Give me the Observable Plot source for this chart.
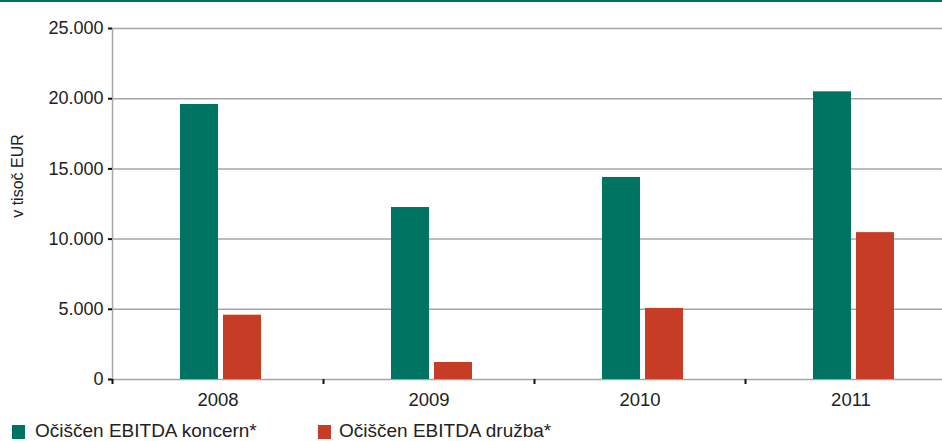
<!DOCTYPE html>
<html>
<head>
<meta charset="utf-8">
<script src="https://cdn.jsdelivr.net/npm/d3@7"></script>
<script src="https://cdn.jsdelivr.net/npm/@observablehq/plot@0.6"></script>
<style>
  html, body { margin: 0; padding: 0; background: #fff; }
  #wrap { position: relative; width: 942px; height: 441px; overflow: hidden; font-family: "Liberation Sans", Arial, sans-serif; color: #222; }
  #topline { height: 2px; background: #007462; }
  #chart svg { display: block; }
  .lg-sw { position: absolute; width: 13px; height: 14px; }
  .lg-tx { position: absolute; font-size: 19px; line-height: 20px; white-space: nowrap; }
</style>
</head>
<body>
<div id="wrap">
  <div id="topline"></div>
  <div id="chart"></div>
  <div id="legend"></div>
</div>
<script>
const years = ["2008", "2009", "2010", "2011"];
const koncern = [19590, 12250, 14390, 20490];
const druzba = [4580, 1210, 5060, 10460];
const yTicks = [0, 5000, 10000, 15000, 20000, 25000];
const seriesNames = ["Očiščen EBITDA koncern*", "Očiščen EBITDA družba*"];
const seriesColors = ["#007462", "#c63c24"];
const yLabel = "v tisoč EUR";

const rowsK = years.map((y, i) => ({year: y, value: koncern[i]}));
const rowsD = years.map((y, i) => ({year: y, value: druzba[i]}));

const fmt = d3.formatLocale({decimal: ",", thousands: ".", grouping: [3], currency: ["", " €"]}).format(",");

const chart = Plot.plot({
  width: 942,
  height: 416,
  marginLeft: 112,
  marginRight: 0,
  marginTop: 26,
  marginBottom: 39,
  style: {fontFamily: "'Liberation Sans', Arial, sans-serif", color: "#222", background: "#fff"},
  x: {type: "band", domain: years, range: [112, 956], padding: 0, axis: null},
  y: {domain: [0, 25000], axis: null},
  marks: [
    Plot.ruleY(yTicks, {stroke: "#a6a6a6", strokeWidth: 1.5}),
    Plot.frame({anchor: "left", stroke: "#a6a6a6", strokeWidth: 1.5}),
    Plot.barY(rowsK, {x: "year", y: "value", fill: seriesColors[0], insetLeft: 68, insetRight: 105}),
    Plot.barY(rowsD, {x: "year", y: "value", fill: seriesColors[1], insetLeft: 111, insetRight: 62}),
    Plot.axisY({ticks: yTicks, tickSize: 4, tickPadding: 5, tickFormat: fmt, stroke: "#111", strokeWidth: 2, fontSize: 18, label: null, style: {letterSpacing: "1.3px"}}),
    Plot.axisX({ticks: years, tickSize: 5, dx: -105.5, tickFormat: () => "", stroke: "#111", strokeWidth: 2, label: null}),
    Plot.axisX({ticks: years, tickSize: 0, tickPadding: 13, fontSize: 18.5, label: null}),
    Plot.text([yLabel], {frameAnchor: "left", rotate: -90, textAnchor: "middle", lineAnchor: "top", dx: -101, dy: -28, fontSize: 16, fill: "#222"})
  ]
});
document.getElementById("chart").appendChild(chart);

const legend = document.getElementById("legend");
const swX = [12, 318];
const txX = [35, 339];
seriesNames.forEach((name, i) => {
  const sw = document.createElement("div");
  sw.className = "lg-sw";
  sw.style.left = swX[i] + "px";
  sw.style.top = "425px";
  sw.style.background = seriesColors[i];
  legend.appendChild(sw);
  const tx = document.createElement("div");
  tx.className = "lg-tx";
  tx.style.left = txX[i] + "px";
  tx.style.top = "421px";
  tx.textContent = name;
  legend.appendChild(tx);
});
</script>
</body>
</html>
